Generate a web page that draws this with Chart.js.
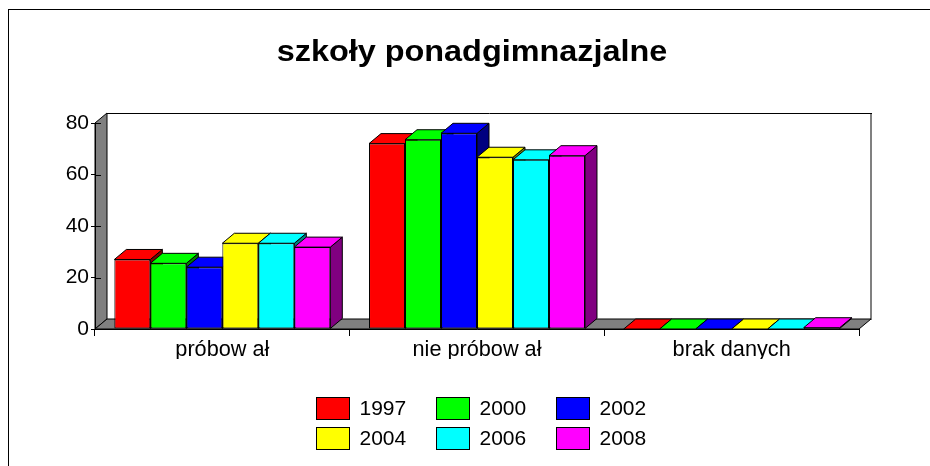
<!DOCTYPE html>
<html>
<head>
<meta charset="utf-8">
<script src="https://cdn.jsdelivr.net/npm/chart.js@4"></script>
<style>
html, body { margin: 0; padding: 0; background: #fff; overflow: hidden; }
canvas { display: block; }
</style>
</head>
<body>
<canvas id="chart" width="930" height="466"></canvas>
<script>
const categories = ['próbow ał', 'nie próbow ał', 'brak danych'];
const years = ['1997', '2000', '2002', '2004', '2006', '2008'];
const v1997 = [27, 72, 0];
const v2000 = [25.5, 73.5, 0];
const v2002 = [24, 76, 0];
const v2004 = [33.3, 66.7, 0];
const v2006 = [33.3, 65.7, 0];
const v2008 = [31.8, 67.3, 0.5];
const yTicks = [0, 20, 40, 60, 80];
const frontColors = ['#ff0000', '#00ff00', '#0000ff', '#ffff00', '#00ffff', '#ff00ff'];
const sideColors = ['#800000', '#008000', '#000080', '#808000', '#008080', '#800080'];

const seriesValues = [v1997, v2000, v2002, v2004, v2006, v2008];
const FONT = '"Liberation Sans", Arial, sans-serif';
const DX = 12, DY = 10; // depth of the fake 3d

function poly(ctx, pts, fill, stroke) {
  ctx.beginPath();
  pts.forEach((p, i) => i ? ctx.lineTo(p[0], p[1]) : ctx.moveTo(p[0], p[1]));
  ctx.closePath();
  ctx.fillStyle = fill;
  ctx.fill();
  ctx.lineWidth = 1;
  ctx.strokeStyle = stroke;
  ctx.stroke();
}

const walls = {
  id: 'walls',
  // title sits centred on 472 and its glyphs are stretched sideways in the reference
  afterLayout(chart) {
    const t = chart.titleBlock, draw = t.draw;
    t.left = 14;
    t.right = 930;
    t.draw = function () {
      const ctx = chart.ctx;
      ctx.save();
      ctx.translate(472, 0);
      ctx.scale(1.08, 1);
      ctx.translate(-472, 0);
      draw.apply(t, arguments);
      ctx.restore();
    };
  },
  // frame, back wall, side wall and floor, under the scales
  beforeDraw(chart) {
    const ctx = chart.ctx, a = chart.chartArea;
    const l = a.left, r = a.right, t = a.top, b = a.bottom;
    ctx.save();
    ctx.strokeStyle = '#000';
    ctx.lineWidth = 1;
    ctx.strokeRect(8.5, 9.5, 1200, 1200);
    // back wall
    ctx.beginPath();
    ctx.moveTo(l + DX, t - DY + 0.5);
    ctx.lineTo(r + DX + 1, t - DY + 0.5);
    ctx.stroke();
    ctx.fillStyle = '#808080';
    ctx.fillRect(r + DX - 1, t - DY + 1, 2, b - t);
    // left wall and floor
    poly(ctx, [[l, t], [l + DX, t - DY], [l + DX, b - DY], [l, b]], '#808080', '#000');
    poly(ctx, [[l, b], [l + DX, b - DY], [r + DX, b - DY], [r, b]], '#808080', '#000');
    // y ticks run a little into the side wall
    const y = chart.scales.y;
    ctx.beginPath();
    yTicks.forEach(v => {
      const py = Math.round(y.getPixelForValue(v)) + 0.5;
      ctx.moveTo(l, py);
      ctx.lineTo(l + 6, py);
    });
    ctx.stroke();
    ctx.restore();
  },
  // bars left to right so each front covers the side of the one before it
  beforeDatasetsDraw(chart) {
    const ctx = chart.ctx;
    chart.getSortedVisibleDatasetMetas().forEach((meta, i) => {
      ctx.save();
      meta.data.forEach(bar => {
        const x1 = bar.x - bar.width / 2, x2 = bar.x + bar.width / 2;
        if (bar.base - bar.y > 0) {
          poly(ctx, [[x2, bar.y], [x2 + DX, bar.y - DY], [x2 + DX, bar.base - DY], [x2, bar.base]], sideColors[i], '#000');
        }
        poly(ctx, [[x1, bar.y], [x1 + DX, bar.y - DY], [x2 + DX, bar.y - DY], [x2, bar.y]], frontColors[i], '#000');
      });
      ctx.restore();
      meta.controller.draw();
    });
    return false;
  },
  // legend grid: the built-in one can't space rows and columns differently
  afterDraw(chart) {
    const ctx = chart.ctx;
    ctx.save();
    ctx.font = '21px ' + FONT;
    ctx.textBaseline = 'middle';
    chart.data.datasets.forEach((ds, i) => {
      const col = i % 3, row = Math.floor(i / 3);
      const x = 316.5 + col * 120, y = 397.5 + row * 30;
      ctx.fillStyle = ds.backgroundColor;
      ctx.fillRect(x, y, 33, 22);
      ctx.strokeStyle = '#000';
      ctx.lineWidth = 1;
      ctx.strokeRect(x, y, 33, 22);
      ctx.fillStyle = '#000';
      ctx.fillText(ds.label, x + 43, y + 12);
    });
    ctx.restore();
  }
};

new Chart(document.getElementById('chart').getContext('2d'), {
  type: 'bar',
  data: {
    labels: categories,
    datasets: years.map((y, i) => ({
      label: y,
      data: seriesValues[i],
      backgroundColor: frontColors[i],
      borderColor: '#000',
      borderWidth: 1,
      borderSkipped: false,
      categoryPercentage: 0.848,
      barPercentage: 1
    }))
  },
  options: {
    responsive: false,
    animation: false,
    layout: { padding: { left: 0, right: 71, top: 0, bottom: 107 } },
    plugins: {
      legend: { display: false },
      tooltip: { enabled: false },
      title: {
        display: true,
        text: 'szkoły ponadgimnazjalne',
        color: '#000',
        font: { family: FONT, size: 30, weight: 'bold', lineHeight: 1.2 },
        padding: { top: 34.5, bottom: 52.5 }
      }
    },
    scales: {
      x: {
        afterFit(s) { s.height = 30; },
        grid: { drawOnChartArea: false, tickLength: 7, color: '#000' },
        border: { color: '#000' },
        ticks: { color: '#000', padding: 1, font: { family: FONT, size: 21.7 } }
      },
      y: {
        min: 0,
        max: 80,
        afterFit(s) { s.width = 95; },
        afterBuildTicks(s) { s.ticks = yTicks.map(v => ({ value: v })); },
        grid: { drawOnChartArea: false, tickLength: 4, color: '#000' },
        border: { color: '#000' },
        ticks: { color: '#000', padding: 2, font: { family: FONT, size: 21 } }
      }
    }
  },
  plugins: [walls]
});
</script>
</body>
</html>
